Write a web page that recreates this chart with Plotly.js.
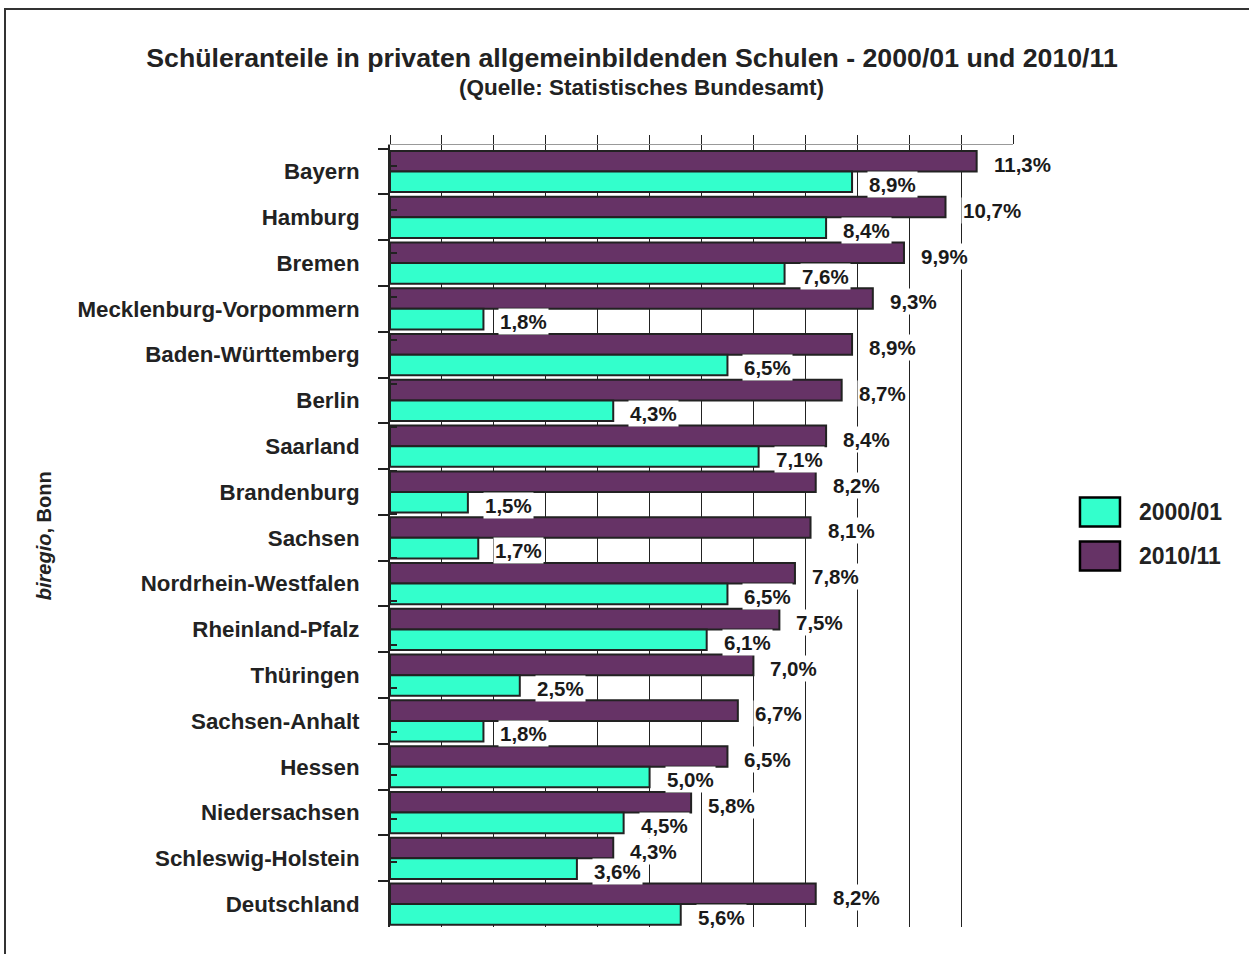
<!DOCTYPE html>
<html>
<head>
<meta charset="utf-8">
<script src="https://cdn.plot.ly/plotly-3.0.1.min.js"></script>
<style>
  html, body { margin: 0; padding: 0; background: #fff; }
  #wrap { position: relative; width: 1249px; height: 954px; overflow: hidden; }
  #chart { position: absolute; left: 0; top: 0; width: 1249px; height: 954px; }
  #frame { position: absolute; left: 4px; top: 8px; width: 1300px; height: 1000px;
           border-left: 2px solid #333; border-top: 2px solid #333; pointer-events: none; }
</style>
</head>
<body>
<div id="wrap">
  <div id="chart"></div>
  <div id="frame"></div>
</div>
<script>
// ---- data ----
const categories = [
  "Bayern", "Hamburg", "Bremen", "Mecklenburg-Vorpommern", "Baden-Württemberg",
  "Berlin", "Saarland", "Brandenburg", "Sachsen", "Nordrhein-Westfalen",
  "Rheinland-Pfalz", "Thüringen", "Sachsen-Anhalt", "Hessen", "Niedersachsen",
  "Schleswig-Holstein", "Deutschland"
];
const values2000 = [8.9, 8.4, 7.6, 1.8, 6.5, 4.3, 7.1, 1.5, 1.7, 6.5, 6.1, 2.5, 1.8, 5.0, 4.5, 3.6, 5.6];
const values2010 = [11.3, 10.7, 9.9, 9.3, 8.9, 8.7, 8.4, 8.2, 8.1, 7.8, 7.5, 7.0, 6.7, 6.5, 5.8, 4.3, 8.2];
const seriesNames = ["2000/01", "2010/11"];
const titleText = "Schüleranteile in privaten allgemeinbildenden Schulen - 2000/01 und 2010/11";
const subtitleText = "(Quelle: Statistisches Bundesamt)";
const creditText = "<i>biregio</i>, Bonn";

// ---- styles ----
const CYAN = "#33FFCC";
const PURPLE = "#663366";
const INK = "#222222";
const FONT = "Liberation Sans, Arial, sans-serif";
const fmt = v => v.toFixed(1).replace(".", ",") + "%";

const traces = [
  {
    type: "bar", orientation: "h", name: seriesNames[1],
    x: values2010, y: categories,
    marker: { color: PURPLE, line: { color: INK, width: 2 } },
    showlegend: false, hoverinfo: "x+y"
  },
  {
    type: "bar", orientation: "h", name: seriesNames[0],
    x: values2000, y: categories,
    marker: { color: CYAN, line: { color: INK, width: 2 } },
    showlegend: false, hoverinfo: "x+y"
  },
  {
    // invisible helper trace so the overlay axis draws inward tick marks
    type: "scatter", mode: "markers", x: categories.map(() => 0), y: categories,
    yaxis: "y2", marker: { opacity: 0 }, showlegend: false, hoverinfo: "skip"
  }
];

const annotations = [];
categories.forEach((c, i) => {
  annotations.push({
    x: values2010[i], y: c, xref: "x", yref: "y", text: "<b>" + fmt(values2010[i]) + "</b>",
    showarrow: false, xanchor: "left", yanchor: "middle", xshift: 15, yshift: 7,
    bgcolor: "#ffffff", borderpad: 1,
    font: { family: FONT, size: 20.5, color: "#1a1a1a" }
  });
  annotations.push({
    x: values2000[i], y: c, xref: "x", yref: "y", text: "<b>" + fmt(values2000[i]) + "</b>",
    showarrow: false, xanchor: "left", yanchor: "middle", xshift: 15, yshift: -13,
    bgcolor: "#ffffff", borderpad: 1,
    font: { family: FONT, size: 20.5, color: "#1a1a1a" }
  });
});

// subtitle
annotations.push({
  xref: "paper", yref: "paper", x: 0.403, y: 1.073, xanchor: "center", yanchor: "middle",
  text: "<b>" + subtitleText + "</b>", showarrow: false,
  font: { family: FONT, size: 22.5, color: INK }
});
// credit
annotations.push({
  xref: "paper", yref: "paper", x: -0.5554, y: 0.501, xanchor: "center", yanchor: "middle",
  text: "<b>" + creditText + "</b>", textangle: -90, showarrow: false,
  font: { family: FONT, size: 20, color: INK }
});
// legend labels
const legendY = [0.5307, 0.4744];
const legendColors = [CYAN, PURPLE];
seriesNames.forEach((n, k) => {
  annotations.push({
    xref: "paper", yref: "paper", x: 1.199, y: legendY[k], xanchor: "left", yanchor: "middle",
    text: "<b>" + n + "</b>", showarrow: false,
    font: { family: FONT, size: 23, color: INK }
  });
});
const shapes = seriesNames.map((n, k) => ({
  type: "rect", xref: "paper", yref: "paper",
  x0: 1.1075, x1: 1.1717, y0: legendY[k] - 0.0186, y1: legendY[k] + 0.0186,
  fillcolor: legendColors[k], line: { color: "#000", width: 2.5 }
}));

const layout = {
  width: 1249, height: 954,
  margin: { l: 390, r: 236, t: 145, b: 27 },
  paper_bgcolor: "#ffffff", plot_bgcolor: "#ffffff",
  font: { family: FONT, color: INK },
  title: {
    text: "<b>" + titleText + "</b>",
    x: 0.506, xanchor: "center", xref: "container",
    y: 1 - 58 / 954, yanchor: "middle", yref: "container",
    font: { family: FONT, size: 26.7, color: INK }
  },
  barmode: "group", bargap: 0.1, bargroupgap: 0,
  xaxis: {
    range: [0, 12], dtick: 1, tick0: 0, side: "top",
    showticklabels: false, showgrid: true, gridcolor: INK, gridwidth: 1,
    zeroline: false, showline: true, linecolor: "#999", linewidth: 1.5,
    ticks: "outside", ticklen: 9, tickcolor: INK, tickwidth: 1, fixedrange: true
  },
  yaxis: {
    type: "category", categoryorder: "array", categoryarray: categories,
    autorange: "reversed", tickson: "boundaries",
    ticks: "outside", ticklen: 10, tickwidth: 2, tickcolor: INK,
    showline: true, linecolor: INK, linewidth: 2, showgrid: false, zeroline: false,
    ticklabelstandoff: 24,
    tickfont: { family: FONT, size: 22.3, color: INK, weight: "bold" },
    fixedrange: true
  },
  yaxis2: {
    type: "category", categoryorder: "array", categoryarray: categories,
    autorange: "reversed", overlaying: "y", side: "left", tickson: "boundaries",
    ticks: "inside", ticklen: 7, tickwidth: 2, tickcolor: INK,
    showticklabels: false, showline: false, showgrid: false, zeroline: false, fixedrange: true
  },
  showlegend: false,
  annotations: annotations,
  shapes: shapes
};

Plotly.newPlot("chart", traces, layout, { staticPlot: true, displayModeBar: false });
</script>
</body>
</html>
